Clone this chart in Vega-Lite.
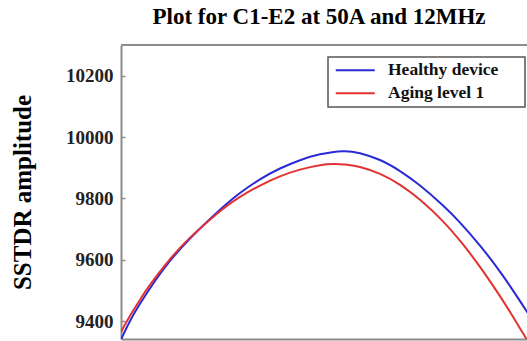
{
  "$schema": "https://vega.github.io/schema/vega-lite/v6.json",
  "autosize": {"type": "none"},
  "padding": {"left": 121, "top": 45, "right": 0, "bottom": 2},
  "width": 406,
  "height": 294,
  "title": {
    "text": "Plot for C1-E2 at 50A and 12MHz",
    "font": "Liberation Serif",
    "fontSize": 23,
    "fontWeight": "bold",
    "color": "#000000",
    "anchor": "middle",
    "frame": "group",
    "dx": -5,
    "offset": 15
  },
  "config": {"view": {"stroke": null}},
  "data": {
    "values": [
      {"x": 0, "amp": 9340.4, "series": "Healthy device"},
      {"x": 2.22, "amp": 9400.7, "series": "Healthy device"},
      {"x": 4.68, "amp": 9456.7, "series": "Healthy device"},
      {"x": 8.37, "amp": 9531.0, "series": "Healthy device"},
      {"x": 12.07, "amp": 9596.2, "series": "Healthy device"},
      {"x": 17.0, "amp": 9669.2, "series": "Healthy device"},
      {"x": 24.38, "amp": 9763.0, "series": "Healthy device"},
      {"x": 29.31, "amp": 9817.7, "series": "Healthy device"},
      {"x": 34.24, "amp": 9862.1, "series": "Healthy device"},
      {"x": 39.16, "amp": 9897.5, "series": "Healthy device"},
      {"x": 44.09, "amp": 9924.6, "series": "Healthy device"},
      {"x": 49.01, "amp": 9943.8, "series": "Healthy device"},
      {"x": 54.68, "amp": 9954.0, "series": "Healthy device"},
      {"x": 58.87, "amp": 9947.3, "series": "Healthy device"},
      {"x": 63.79, "amp": 9925.2, "series": "Healthy device"},
      {"x": 68.72, "amp": 9889.2, "series": "Healthy device"},
      {"x": 73.65, "amp": 9841.9, "series": "Healthy device"},
      {"x": 79.31, "amp": 9776.8, "series": "Healthy device"},
      {"x": 83.5, "amp": 9721.1, "series": "Healthy device"},
      {"x": 88.42, "amp": 9646.3, "series": "Healthy device"},
      {"x": 94.09, "amp": 9547.6, "series": "Healthy device"},
      {"x": 100, "amp": 9430.6, "series": "Healthy device"},
      {"x": 101.97, "amp": 9389.2, "series": "Healthy device"},
      {"x": 0, "amp": 9364.8, "series": "Aging level 1"},
      {"x": 2.22, "amp": 9417.6, "series": "Aging level 1"},
      {"x": 4.68, "amp": 9469.7, "series": "Aging level 1"},
      {"x": 7.14, "amp": 9518.6, "series": "Aging level 1"},
      {"x": 12.07, "amp": 9602.0, "series": "Aging level 1"},
      {"x": 17.0, "amp": 9672.4, "series": "Aging level 1"},
      {"x": 24.38, "amp": 9758.4, "series": "Aging level 1"},
      {"x": 29.31, "amp": 9805.4, "series": "Aging level 1"},
      {"x": 34.24, "amp": 9841.9, "series": "Aging level 1"},
      {"x": 39.16, "amp": 9871.8, "series": "Aging level 1"},
      {"x": 44.09, "amp": 9894.0, "series": "Aging level 1"},
      {"x": 49.01, "amp": 9908.3, "series": "Aging level 1"},
      {"x": 52.22, "amp": 9912.2, "series": "Aging level 1"},
      {"x": 55.17, "amp": 9910.9, "series": "Aging level 1"},
      {"x": 58.87, "amp": 9902.5, "series": "Aging level 1"},
      {"x": 63.79, "amp": 9879.9, "series": "Aging level 1"},
      {"x": 68.72, "amp": 9844.4, "series": "Aging level 1"},
      {"x": 73.65, "amp": 9795.6, "series": "Aging level 1"},
      {"x": 79.31, "amp": 9725.4, "series": "Aging level 1"},
      {"x": 84.24, "amp": 9650.0, "series": "Aging level 1"},
      {"x": 88.42, "amp": 9576.9, "series": "Aging level 1"},
      {"x": 92.61, "amp": 9496.5, "series": "Aging level 1"},
      {"x": 96.06, "amp": 9425.4, "series": "Aging level 1"},
      {"x": 99.51, "amp": 9349.8, "series": "Aging level 1"},
      {"x": 101.48, "amp": 9305.5, "series": "Aging level 1"}
    ]
  },
  "layer": [
    {
      "data": {"values": [{}]},
      "mark": {"type": "rule", "color": "#8c8c8c", "strokeWidth": 2},
      "encoding": {"y": {"datum": 10300}}
    },
    {
      "mark": {"type": "line", "strokeWidth": 2, "clip": true, "interpolate": "natural"},
      "encoding": {
        "x": {
          "field": "x",
          "type": "quantitative",
          "scale": {"domain": [0, 100], "nice": false, "zero": false},
          "axis": {
            "title": null,
            "domain": true,
            "domainColor": "#8c8c8c",
            "domainWidth": 2,
            "ticks": false,
            "labels": false,
            "grid": false
          }
        },
        "y": {
          "field": "amp",
          "type": "quantitative",
          "scale": {"domain": [9342, 10300], "nice": false, "zero": false},
          "axis": {
            "title": "SSTDR amplitude",
            "values": [9400, 9600, 9800, 10000, 10200],
            "format": "d",
            "grid": false,
            "domainColor": "#8c8c8c",
            "domainWidth": 2,
            "tickColor": "#8c8c8c",
            "tickWidth": 1.5,
            "tickSize": -4,
            "labelPadding": 12,
            "labelFont": "Liberation Serif",
            "labelFontSize": 19,
            "labelFontWeight": "bold",
            "labelColor": "#222222",
            "titleFont": "Liberation Serif",
            "titleFontSize": 25,
            "titleFontWeight": "bold",
            "titleColor": "#000000",
            "titlePadding": 30
          }
        },
        "color": {
          "field": "series",
          "type": "nominal",
          "scale": {
            "domain": ["Healthy device", "Aging level 1"],
            "range": ["#2a2ad6", "#e23232"]
          },
          "legend": {
            "orient": "none",
            "legendX": 207,
            "legendY": 12,
            "title": null,
            "symbolType": "M-3.9,0H3.9",
            "symbolSize": 100,
            "symbolStrokeWidth": 2,
            "symbolOffset": 14,
            "labelOffset": 24,
            "labelFont": "Liberation Serif",
            "labelFontSize": 17.5,
            "labelFontWeight": "bold",
            "labelColor": "#111111",
            "labelExpr": "datum.label + '\u00a0\u00a0\u2800'",
            "padding": 4.5,
            "rowPadding": 4,
            "strokeColor": "#555555",
            "fillColor": "#ffffff",
            "encode": {"legend": {"update": {"strokeWidth": {"value": 1.5}}}}
          }
        }
      }
    }
  ]
}
